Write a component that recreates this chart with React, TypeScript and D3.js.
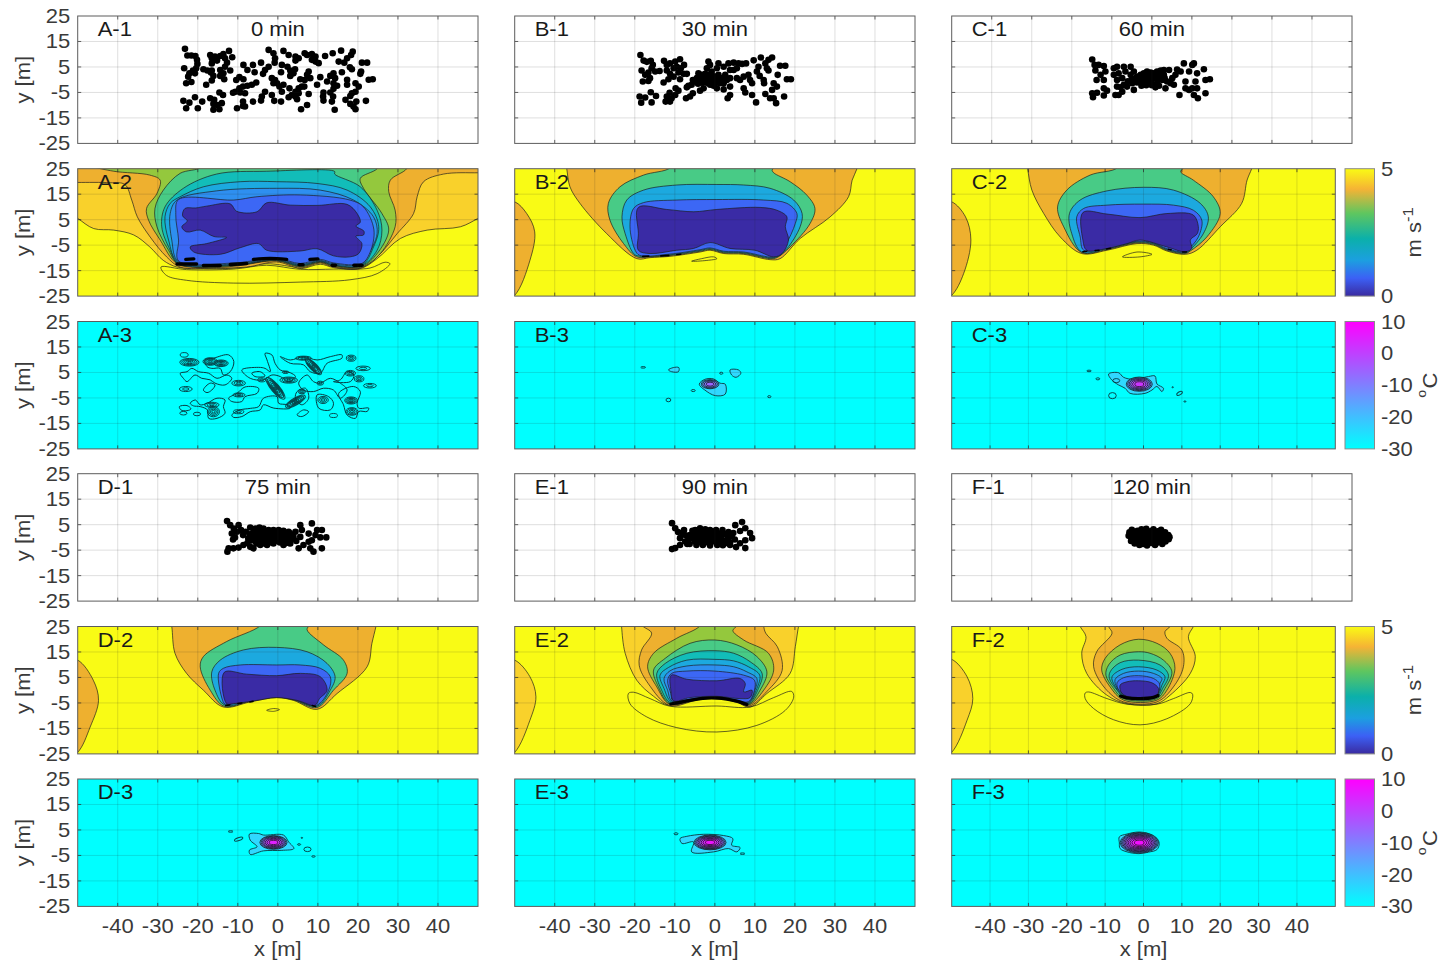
import React from "react";
import * as d3 from "d3";

type P = [number, number];
// [x, y, rx, ry, angle, rings]
type Spot = [number, number, number, number, number, number];

const xTicks = [-40, -30, -20, -10, 0, 10, 20, 30, 40];
const yTicks = [25, 15, 5, -5, -15, -25];
const speedTicks = [5, 0];
const tempTicks = [10, 0, -10, -20, -30];
const minutes = ["0 min", "30 min", "60 min", "75 min", "90 min", "120 min"];

const speedValues = [0.25, 0.75, 1.25, 1.75, 2.25, 2.75, 3.25, 3.75, 4.25, 4.75];
const speedColors = ["#3a2ba5", "#3c67f5", "#2e8ff0", "#1ca9df", "#12bdb9", "#48cb86", "#94c83d", "#eeb02f", "#f9d12b", "#f9fb15"];
const speedBarStops: [number, string][] = [[0, "#3a2ba0"], [0.14, "#3c60f5"], [0.28, "#1c9fe0"], [0.45, "#0bb0aa"], [0.65, "#5fc65f"], [0.84, "#f5b335"], [0.94, "#f9e020"], [1, "#f9fb15"]];

/* ---------- particle positions ---------- */
const pointsA: P[] = [[-23.2,12.1],[-22.6,9.5],[-21.6,9.5],[-20.6,9.3],[-20.2,7.8],[-23.4,4.5],[-20.1,6.2],[-20.4,4.5],[-21.2,3.6],[-22.1,2.5],[-20.7,2.5],[-22.4,1.2],[-18.6,4.1],[-17.6,3.6],[-16.7,2.8],[-16.1,1.5],[-22.9,-1.4],[-21.6,-0.9],[-17.9,-2],[-16.5,-0.3],[-16.9,9.7],[-16.5,8.4],[-15.7,9.1],[-14.4,9.3],[-13.6,10.1],[-12.2,11.3],[-11.4,8.8],[-13.2,8.4],[-16.5,6.4],[-15.2,7.5],[-12.7,6.7],[-13.2,5.1],[-14.4,3.8],[-11.9,3.6],[-13.6,2.5],[-14.4,1.5],[-13.4,0.2],[-16.5,3.6],
[-8.6,5.8],[-7.6,3.8],[-6.2,5.8],[-5.8,2.9],[-4.2,6.7],[-2.3,5.1],[-3.2,3.8],[-3.7,2.3],[-2.3,11.7],[-1.1,10.4],[-0.7,8.4],[-0.8,6.7],[-9.6,1],[-10.4,-0.1],[-8.6,0.2],[-8.7,-2.7],[-7.6,-2.4],[-6.5,-2],[-5.4,-1.1],[-9.6,-3.4],[-10.6,-4.7],[-11.2,-5.1],[-9.4,-5],[-8.2,-5.3],[-1.5,0.6],[-0.7,-0.1],[-0.2,-1.4],[-1.1,-1.4],[0.4,-2.7],[1,-4.7],[1,5.8],[2.4,5.1],[0.8,2.9],[3.1,3.6],[4.3,4.1],[3.9,2.5],[3.1,1.5],[1.4,11.3],[2.7,9.7],
[4.4,9.1],[5.2,8.4],[4.4,7.5],[6.7,10.4],[7.3,9.7],[8.5,10.1],[9.4,9.1],[8.5,7.8],[9.4,7.1],[10.2,6.5],[11.8,9.3],[13.7,10.4],[15.8,11.4],[18.7,11],[18.3,9.7],[15.2,7.1],[17.3,8.4],[16.6,6.7],[18,4.9],[18.5,4.1],[21,6.7],[22.3,6.7],[20.8,3.2],[20.6,2.3],
[22.7,0],[23.7,0.2],[16,2.9],[13.9,2.5],[13.1,1.5],[10.6,1],[12.3,-0.7],[14.3,0.6],[13.9,-1.4],[14.8,-2.4],[9.8,-2],[7.7,3.2],[7.3,1.9],[8.1,0.6],[5.6,0.2],[6.7,-0.1],[17.3,0],[17.3,-2],[19.4,-1.4],[20.2,-2.7],[19.4,-4.7],[18.5,-5.3],[18.1,-6.4],[13.9,-3.6],[13.1,-5],[13.8,-6.6],[13.5,-8.6],[11.4,-5],[11.3,-6.6],[11.4,-8.2],[16.9,-7.9],[18.1,-9.5],[18.9,-10.5],[19.6,-8.6],[19.4,-11.6],[22,-8.3],[14.2,-11.8],
[1.4,-2],[2.9,-3.4],[4.4,-4.7],[5.2,-3.4],[6,-2.7],[6.6,-2.7],[5.2,-5.3],[4.4,-6.6],[3.5,-6],[2.7,-6.9],[4.8,-7.7],[7.7,-5.6],[0.8,-8.6],[-0.9,-8.3],[-1.5,-6],[-3.2,-4.7],[-4,-6.6],[-4.2,-8.2],[-6.2,-8.6],[5.8,-11.6],[7.3,-9.9],
[-23.6,-8.3],[-22.1,-9],[-20.7,-6.9],[-18.9,-8.6],[-22.9,-11.2],[-20,-11.2],[-16.9,-7.3],[-15.9,-7.9],[-14.6,-5],[-13.7,-6],[-16.1,-9.5],[-14,-9.2],[-16.1,-11.8],[-14.6,-11.6],[-15.1,-9.9],[-10.2,-11.2],[-8.7,-8.6],[-8.7,-10.3],[-8.2,-10.5]];

const pointsB: P[] = [[-18.6,9.7],[-17.8,7.5],[-17,7],[-16,7.4],[-15.5,5.8],[-18.3,3.6],[-14.9,3.2],[-15.8,4.5],[-16.6,2.8],[-17.4,1.9],[-16.2,0.6],[-18,-0.7],[-16.6,-0.5],[-12.7,7.4],[-12,5.8],[-11.2,6.4],[-9.9,7.1],[-8.7,8],[-7.7,5.8],[-9.5,5.1],[-10.3,4.5],[-8.5,4.5],[-9.1,2.8],[-7.8,2.3],[-7,2.3],[-12,3.6],[-13.8,3.4],[-11.2,2.3],[-10.3,1.2],[-8.7,0.2],[-12.8,-1.1],[-11.6,0.2],
[-4.5,0.6],[-4.1,2.5],[-3.3,1.9],[-2.4,2.3],[-1.6,1.9],[-0.8,1.9],[0.1,1.2],[0.9,1.9],[1.8,0.6],[-1.2,-0.1],[-2,-0.1],[-2.8,0.6],[-3.7,-0.1],[-0.3,-0.7],[0.5,-0.1],[1.3,-1.4],[-4.9,-0.7],[-5.5,-0.1],[-5.8,-2],[-6.6,-2.4],[-1.2,-2],[-0.3,-2.4],[0.5,-3.4],[2.2,-3.8],[3.8,-2.7],[3,-0.1],[2.6,1.9],[3.8,0.6],[-0.8,3.2],[-2,4.5],[-1.2,5.8],[-1.6,7.1],[0.9,6.4],[0.5,4.5],[2.2,5.1],[3.4,6.4],[4.7,6.7],[5.9,6.4],[5.5,4.5],[4.7,3.8],[6.8,6.2],[7.8,6.4],[3.8,3.8],[-3.2,-1.2],[-2,-1.2],[-0.6,-1.4],[0.6,-1],[2.2,-1.4],[-4.2,-1.6],[-3.4,0.9],[-1,0.8],[0.9,0.6],[2.6,0.4],
[9.7,7.6],[11.5,8.7],[14.3,8.7],[13.4,7.8],[12.6,6.4],[10.9,5.1],[13,4.5],[13.4,3.6],[10.5,3.2],[11.2,1.5],[16.3,5.5],[17.6,5.5],[15.7,1.9],[18,0.2],[19,0.2],[6.3,-0.1],[5.5,0.6],[7.2,1.2],[8.4,1.9],[8.8,-0.1],[9.3,-1.4],[12.2,-0.1],[12.3,-1.4],[14.7,-1.4],[15.5,-2.7],[14.3,-4],[12.6,-5.6],[13.8,-7.3],[14.7,-7.3],[15.3,-9.2],[17.3,-6.6],[10.3,-8.9],[9.3,-6],[7.2,-3.4],[7.6,-5],[3.8,-6],[3.2,-7.3],
[-18.8,-6.6],[-17.4,-7],[-18.4,-9],[-15.8,-8.9],[-16,-4.9],[-14.7,-6.4],[-12.3,-8.6],[-11.2,-8.6],[-12,-6.6],[-10.8,-7.3],[-11.3,-5.1],[-9.9,-6],[-9.8,-3.4],[-9.1,-4.3],[-7.2,-7.3],[-6.2,-6.6],[-5.5,-5.3],[-7,-3],[-3.7,-4.3],[-2.8,-3.4]];

const pointsC: P[] = [[-14.9,7.9],[-14.3,5.8],[-13.3,5.8],[-12,5.4],[-14.1,3.6],[-11.6,3.2],[-12.8,1.9],[-13.8,-0.1],[-12,-0.1],[-9.5,4.5],[-8.7,5.1],[-7,5.1],[-5.3,5.1],[-6.6,3.2],[-8.3,2.5],[-9.5,1.9],[-4.5,3.2],[-5.3,1.9],[-7.4,0.6],[-8.7,-0.1],
[-3.7,1.2],[-2.8,1.9],[-2,2.5],[-1.2,3.2],[-0.3,2.8],[0.5,2.5],[1.3,3.2],[2.2,3.6],[3,3.8],[4.3,3.8],[-2.8,-0.1],[-2,0.6],[-1.2,1.2],[-0.3,0.6],[0.5,0.6],[1.3,1.2],[2.2,1.5],[3,1.9],[-1.2,-0.7],[-0.1,-1.4],[1.3,-1.4],[2.6,-0.1],[0.9,-3],[-2,-1.4],[-3.7,-1.1],[-4.9,-1.4],[-4.5,-4],[-6.2,-2.7],[-7,-2],[-7.8,-3],[-7.4,-4.7],[-8.3,-6],[-9.1,-6],[-12,-3.4],[-11.2,-4.3],[-13.7,-5.1],[-14.9,-5.3],[-14.7,-6.9],[-12,-6.2],[-8.7,-2.7],[-4.2,-0.2],[-5,0.4],[-1.4,-2.2],[0,-2.2],[1.4,0],[-0.6,2],[0.4,1.6],[2,0.4],[3.2,0.6],[1.8,-2.4],[-2.6,-2.4],[-6,-0.6],
[3.8,-0.7],[4.7,-1.4],[5.1,0.6],[5.9,1.9],[6.3,4],[8,6.4],[7.2,3.2],[9.3,3.2],[8.4,-0.7],[10.5,6.4],[10.1,5.8],[11.3,2.5],[13,4.1],[13.4,-0.1],[14.5,0.2],[10.9,-0.7],[10.1,-3.4],[9.3,-4],[8.4,-3.4],[11.3,-3.4],[13.4,-5.3],[11.5,-7.3],[10.5,-6],[6.9,-6],[5.5,-2],[3.4,-3.4]];

const pointsD: P[] = [[-12.7,6.4],[-11.9,4.8],[-11,3.5],[-9.8,4.8],[-11.5,1.5],[-10.2,2.2],[-9.2,2.9],[-10.7,0],[-11.2,-0.8],[-8.7,0.9],[-6.9,3.9],[-5.6,3.5],[-4.6,3.9],[-3.6,3.5],[-2.3,2.9],[-1.1,2.9],[0.2,2.9],[1.4,2.6],[2.7,2.2],[5.6,4.8],[8.5,5.5],[4.4,2.2],[6,2.9],[7.7,1.5],[9.8,2.9],[11,2.9],[9.4,0.9],[10.6,0],[12.1,0],[5.6,0.2],[3.9,0.2],
[-6,2.2],[-5,1],[-4.5,2.4],[-3.5,0.2],[-3,1.8],[-2,-0.6],[-1.5,0.9],[-0.5,2],[0.2,-0.3],[0.8,1.2],[1.5,-1],[2.3,0.5],[3,1.6],[-5.5,-0.8],[-4.2,-1.6],[-3,-1],[-2,-2],[-0.8,-1.5],[0.5,-2],[1.8,-2.3],[3,-1.4],[3.8,-0.4],[-6.6,-1.2],[-7,0.5],[-7.4,-0.4],[-0.6,0.2],[-2.6,0.8],[1.2,0.6],[-6,0.4],[-4.4,-0.4],[-2.6,-0.2],[-1,-0.6],[0.6,-1],[2.4,-0.6],[-1.6,2.2],[1.8,1.6],[-3.8,1.2],[-5.4,-2.2],[-3.4,-2.4],[-1.4,-1],[-0.4,1],[2.8,-2.2],[-6.6,1.4],[-8,2.2],[-7.6,-2.2],[4.6,-1.4],
[-12.3,-4.3],[-11.1,-4.3],[-12.6,-5.6],[-9.8,-4],[-8.6,-3],[-6.9,-3.7],[-6.1,-4.3],[-5.2,-2.4],[-4.4,-3],[-2.7,-3],[-1.1,-2.4],[1.4,-3],[3.1,-2.4],[5.2,-4.3],[6.4,-3],[7.7,-1.7],[8.5,-1.1],[8.1,-4.3],[8.9,-5.6],[11,-4.3]];

const pointsE: P[] = [[-10.7,5.6],[-9.9,3.6],[-9.2,2.1],[-7.7,2.9],[-8.7,-0.3],[-9.9,-4.2],[-10.7,-4.6],[-8.7,-3],[-6.9,-2.6],[-6.2,0.9],[-4.9,2.9],[-3.7,3.6],[-2.4,3.2],[-1.2,2.9],[0.3,2.9],[1.9,2.9],[3.4,2.1],[5.1,4.8],[6.8,6],[4.6,1.7],[6.3,2.5],[7.6,3.6],[8.8,1.7],[9.3,-0.3],[7.6,-1.1],[6.3,-2.3],[5.3,-3.8],[7.6,-4.2],[3.8,-3],[2.6,-2.3],
[-5.5,1.5],[-4.5,0],[-3.5,1.8],[-2.5,0.3],[-1.5,1.6],[-0.5,-0.2],[0.5,1.4],[1.5,0.1],[2.5,1.3],[3.3,-0.4],[-5,-1.6],[-3.8,-1.9],[-2.7,-1.3],[-1.6,-2.1],[-0.6,-1.5],[0.4,-2.2],[1.4,-1.4],[-6.6,-0.6],[-7.3,0.8],[-6.3,-2.6],[-4.6,-3],[-3,-3],[-1.2,-3.2],[0.6,-3],[2,-3.1],[4.2,0.4],[5,-0.8],[-5.6,-0.2],[-3.6,0.6],[-1.6,0.4],[0.4,0.2],[2.4,-1.2],[-4.4,1],[-2.4,2],[-0.4,1.8],[1.4,1.6],[3.2,1],[-3.4,-0.8],[-1.2,-0.8],[0.8,-0.8],[-7.4,-1.6],[-8,1.6],[3.8,-2],[-5.6,2.6]];

const pointsF: P[] = [[-5.8,0.6],[-5.6,2],[-5.2,-1.4],[-5,3],[-4.4,1],[-4.2,-0.4],[-4.3,-2.4],[-3.6,2.6],[-3.4,0.4],[-3.2,-1.4],[-3.1,-3],[-2.6,3.2],[-2.4,1.4],[-2.4,-0.4],[-2.2,-2.6],[-1.4,3.4],[-1.4,0.8],[-1.2,-1],[-1.2,-3.2],[-0.4,2.4],[-0.3,-0.2],[-0.2,-2.2],[0.4,3.2],[0.6,1.2],[0.7,-0.8],[0.8,-3],[1.4,2.4],[1.6,0.2],[1.6,-1.8],[2.3,3],[2.5,1.2],[2.6,-0.6],[2.6,-2.6],[3.3,2],[3.4,0.2],[3.4,-1.6],[4.1,0.9],[4.2,-0.7],[4.4,0.1],[-5,-0.2],[-4.4,2],[-3.6,-2.2],[-2,2.2],[-1.6,-2],[-0.8,1.4],[0,-1.4],[0.6,2],[1,-2.4],[1.8,1.2],[2.2,-1.2],[-2.8,0.4],[-0.8,0.2]];

/* ---------- wind speed contours, outermost first ---------- */
const levelsA2 = [4.25, 3.75, 3.25, 2.75, 2.25, 1.75, 1.25, 0.75, 0.25];
const ringsA2: P[][] = [
  [[-52,7.5],[-50,5.5],[-46,1.5],[-41,0.9],[-36,-1],[-32,-5.7],[-28.6,-11],[-25.2,-13.6],[-19.4,-14.2],[-11,-14],[-2.8,-12.3],[3.9,-13.6],[6,-14.2],[10.6,-12.5],[13.9,-13.8],[20.6,-14.2],[24.8,-10.3],[30.6,-2.4],[37.3,0.9],[45.6,2.2],[50,5.5],[53,8],[54,28],[-54,28]],
  [[-54,19.6],[-50,19.6],[-41.9,19.5],[-38.2,18.8],[-36.5,12.7],[-35.1,6.1],[-31.9,-1.8],[-27.8,-9.6],[-24.4,-13.6],[-16.1,-14],[-7.8,-13.6],[-0.3,-11.6],[5.6,-14],[10.6,-12],[13.9,-13.6],[20.6,-14],[24.8,-9.6],[29.8,-0.5],[33.9,7.4],[34.8,14],[36.4,19.9],[41.4,22.9],[50,23.4],[54,23.4],[54,28],[-54,28]],
  [[-46,26],[-41,24],[-32,22.5],[-29.4,20.5],[-30.2,15.3],[-32.8,9.4],[-32.3,4.8],[-29.4,-3],[-25.2,-12.3],[-19.4,-13.8],[-11,-13.3],[-0.3,-11.2],[5.6,-13.6],[10.6,-11.7],[13.9,-13.3],[21,-13.6],[25.6,-8.3],[29.3,2.2],[29.3,8.7],[27.7,16],[28.1,20.5],[32.2,25],[33,29],[-10,30]],
  [[-20,28],[-19.4,25.5],[-24.4,23.2],[-28.6,16.6],[-30.7,9.4],[-30.2,2.2],[-27.3,-7],[-24.8,-12.3],[-11,-13],[-0.3,-11],[5.6,-13.3],[10.6,-11.5],[13.9,-13],[21,-13.3],[24.8,-8.3],[27.7,0.9],[26,7.4],[21.4,17.3],[20.6,21.2],[24.8,25],[26,29]],
  [[14.2,23.9],[-2.8,24],[-15.3,22.9],[-23.6,17.3],[-28.2,10],[-29,2.2],[-26.9,-7],[-24.8,-12.3],[-11,-12.9],[-0.3,-10.9],[5.6,-13.1],[10.6,-11.4],[13.9,-12.9],[21,-13],[24.8,-7],[26,0.9],[24.8,8.7],[20.6,17.9],[14.2,22.9]],
  [[-24.4,14],[-18.6,17.9],[-9.4,19.9],[-0.3,19.9],[9.8,19.2],[17.3,16.6],[23.1,10],[25.2,2.2],[23.9,-5.7],[21,-12.9],[13.9,-12.7],[10.6,-11.2],[5.6,-12.9],[-0.3,-10.7],[-11,-12.7],[-24.8,-12],[-27.3,-3],[-28.2,6.1],[-26.9,11.4]],
  [[-25.2,12.7],[-15.3,16.3],[-0.3,17.3],[10.6,16.6],[18.9,12.7],[23.9,6.1],[24.8,-0.5],[22.3,-9.6],[21,-12.6],[14,-12.4],[10.6,-11],[5.6,-12.6],[-0.3,-10.5],[-11,-12.4],[-24.8,-11.6],[-26.5,-3],[-26.9,7.4]],
  [[-24.8,12.9],[-11,12.7],[-5.2,14],[5.6,14.7],[18,12.7],[21.4,10],[24,1],[23,-8],[21,-12.2],[14,-12],[10.6,-10.6],[5.6,-12.2],[-0.3,-10.2],[-11,-12],[-24.8,-11.2],[-24.8,-3],[-25.5,7]],
  [[-23.2,9.4],[-20.5,9.6],[-17.8,10.3],[-11.9,11.2],[-10.3,8.3],[-5.2,8.1],[-2.8,11.6],[3.1,10.7],[10,10.6],[17.3,11],[19.8,7.4],[20.6,4],[19.5,2.5],[21.5,0.5],[21.4,-1],[19.5,-1.5],[21,-4.4],[20.2,-8.3],[18,-9.6],[13.9,-9.2],[9.8,-6.4],[5.6,-7.3],[-2.8,-7],[-4.8,-4.4],[-9.4,-6],[-14.4,-8.6],[-21,-7.7],[-21.9,-5.7],[-17.8,-4.4],[-12.8,-2],[-16,-1.6],[-19.4,0.9],[-22.8,0.2],[-24,2.2],[-22.6,4.5],[-23.8,6.5]],
];
const lensA2: P[] = [[-29.2,-13.6],[-27.8,-16.9],[-22.8,-18.8],[-11,-19.9],[5.6,-19.5],[18,-18.6],[24.8,-16.2],[28,-12.3],[26.8,-11.7],[23,-14],[14,-14.4],[5.6,-14.5],[-2.8,-12.9],[-11,-14.4],[-22.8,-14.6]];
const bandsA2: P[][] = [
  [[-25.2,-12.4],[-20.3,-12.4]],
  [[-18.6,-13],[-14.4,-13]],
  [[-11.9,-12.6],[-7.8,-12.2]],
  [[-6.1,-10.6],[-2,-10.2],[2.2,-10.6]],
  [[5.3,-12.7],[6.3,-12.7]],
  [[13.6,-12.9],[14.4,-12.9]],
  [[19,-12.9],[21,-12.9]],
  [[-23,-10.6],[-21,-10.4]],
  [[8,-10.6],[10,-10.4]],
];

const levelsB2 = [3.75, 3.75, 2.75, 1.75, 0.75, 0.25];
const ringsB2: P[][] = [
  [[-54,12],[-50,12],[-47,7.4],[-45,0.2],[-46.2,-11],[-50,-24.7],[-54,-28]],
  [[-37.5,29],[-37,25],[-36.2,17.9],[-33.7,11.4],[-27,-0.5],[-19.5,-10.3],[-16.2,-9.9],[-11.2,-9.4],[-3.7,-7.7],[-1.2,-7],[2.2,-8.3],[7.2,-8.6],[13.8,-10.7],[16.3,-10.3],[21.3,-2.4],[28.8,6.1],[33.4,14],[34.3,20.5],[35.5,25],[36,29]],
  [[-10,29],[-11.2,25.3],[-17.8,22.5],[-23.7,17.9],[-26.6,11.4],[-26.2,4.8],[-22.8,-4.4],[-19.5,-9.6],[-16.2,-9.6],[-11.2,-9.1],[-3.7,-7.4],[-1.2,-6.7],[2.2,-8],[7.2,-8.3],[13.8,-10.3],[15.5,-9.9],[18.8,-5.7],[23.8,3.5],[25,9.4],[23,14.6],[18.8,19.9],[14.7,23.4],[14.3,24.5],[14.7,25.3],[15,29]],
  [[0.5,18.8],[-9.5,18.6],[-17.8,16.6],[-22,12.7],[-23.2,6.1],[-22.4,-0.5],[-20.3,-8.3],[-19,-9.3],[-11.2,-8.8],[-3.7,-7.1],[-1.2,-6.4],[2.2,-7.7],[7.2,-8],[13.8,-10],[15.5,-9.6],[18,-6.4],[21.3,2.2],[21.8,7.4],[19.7,12.7],[13.8,17.3],[7.2,18.6]],
  [[0.5,12.9],[-9.5,12.7],[-17.8,11.7],[-20.3,9.4],[-21.2,2.2],[-19.9,-7],[-18.8,-9],[-11.2,-8.5],[-3.7,-6.8],[-1.2,-6.1],[2.2,-7.4],[7.2,-7.7],[13.8,-9.7],[15.1,-9.4],[17.6,-5],[20.1,3.5],[20.5,7.4],[18,11.4],[12.2,12.7]],
  [[-19.1,9.8],[-12,9],[-5.3,8.1],[0.5,9],[11.3,9.8],[15.5,8.7],[18,6.1],[17.6,2.2],[18.4,-3],[16.8,-8.3],[14.7,-9.6],[10,-7],[3.8,-6.3],[-1.2,-4],[-5.3,-6.3],[-9.5,-7],[-16.2,-8.3],[-19.1,-7],[-19.1,-0.5]],
];
const lensB2: P[] = [[-5.8,-11.3],[-3.3,-10.3],[-0.3,-9.6],[0.5,-10.3],[-2,-11]];
const bandsB2: P[][] = [[[-18,-9.4],[-16.5,-9.3]],[[-13.5,-9.2],[-11.5,-9]],[[-9.5,-8.7],[-8.5,-8.6]]];

const levelsC2 = [3.75, 3.75, 2.75, 1.75, 0.75, 0.25];
const ringsC2: P[][] = [
  [[-54,12],[-50,12],[-46.4,6.1],[-45,-3],[-46.9,-16.2],[-50,-24.7],[-54,-28]],
  [[-30.6,29],[-30.2,25],[-29.1,16.6],[-26,7.4],[-21.7,-1.8],[-16.1,-8.3],[-9.5,-7],[-1.7,-4.4],[2.6,-5],[6.1,-7.3],[10.9,-8.6],[13.9,-7],[20,2.2],[25.6,11.4],[27,20.5],[28.2,25],[29,29]],
  [[-6,29],[-6.9,25.3],[-13.9,22.5],[-20,16.6],[-22.4,10],[-20.8,2.2],[-16.1,-7.9],[-9.5,-6.7],[-1.7,-4.1],[2.6,-4.7],[6.1,-7],[10.9,-8.3],[12.2,-7.3],[16.5,-1.8],[20,7.4],[18.2,14],[13,20.5],[9.7,23.8],[10.4,25.3],[11,29]],
  [[0,17.7],[-9.5,16.3],[-16.5,12.7],[-19.3,7.4],[-18.7,-0.5],[-16.1,-7.7],[-9.5,-6.4],[-1.7,-3.8],[2.6,-4.4],[6.1,-6.7],[10.9,-8],[12,-7],[15.6,-0.5],[16.9,6.1],[14.8,11.4],[7.8,16.6]],
  [[0,11.1],[-9.5,10.7],[-15.6,9.4],[-17.4,6.1],[-16.5,-1.8],[-15.6,-7],[-9.5,-6.1],[-1.7,-3.5],[2.6,-4.1],[6.1,-6.4],[10.9,-7.7],[11.7,-6.7],[14.3,-1.8],[15.2,4.8],[13,8.7],[7.8,10.7]],
  [[-15.8,7.8],[-9.5,7.2],[-0.9,5.8],[6.1,7.4],[13,6.8],[14.3,2.2],[14,-0.5],[12.2,-3],[12.6,-6.3],[10.9,-7.6],[6.1,-5.7],[-0.9,-3],[-4.3,-4.4],[-9.5,-6.3],[-14.8,-7],[-15.8,-3]],
];
const lensC2: P[] = [[-5.5,-9.6],[-1.7,-7.7],[2.2,-8.6],[-0.9,-9.6]];
const bandsC2: P[][] = [[[-15.8,-7.6],[-14.8,-7.4]],[[-12.6,-7.1],[-11.6,-7]],[[-9.6,-6.5],[-8.6,-6.2]],[[6.5,-6.6],[7.2,-6.8]],[[10.2,-7.7],[11.2,-7.7]]];

const levelsD2 = [3.75, 3.75, 2.75, 1.75, 0.75, 0.25];
const ringsD2: P[][] = [
  [[-54,12],[-50,11.8],[-46.1,3.9],[-44.8,-4],[-46.9,-14.5],[-50,-24.4],[-54,-28]],
  [[-27,29],[-26.5,25],[-25.7,14.5],[-22.8,6.6],[-18.6,0],[-13.6,-6.6],[-6.9,-4.6],[-0.3,-2.9],[3.9,-4],[9.8,-7.5],[14.8,-1.3],[22.3,9.2],[23.5,18.4],[24.5,25],[25,29]],
  [[-3,29],[-4.4,25.3],[-12.8,19.1],[-18.6,13.2],[-19.4,9.2],[-16.9,0],[-13.4,-6.3],[-6.9,-4.3],[-0.3,-2.7],[3.9,-3.8],[9.8,-6.8],[13.9,0],[17.3,6.6],[16.4,11.8],[11.4,17.8],[7.3,23.7],[7.7,25.3],[8,29]],
  [[-0.3,16.8],[-8.6,15.8],[-14.4,11.8],[-16.5,7.2],[-15.7,0],[-13.2,-5.9],[-6.9,-4.1],[-0.3,-2.5],[3.9,-3.6],[9.8,-6.3],[13.1,0],[14.3,5.3],[12.3,10.5],[7.3,15.1]],
  [[-0.3,9.9],[-9.4,9.9],[-13.6,8.6],[-14.8,6.6],[-13.8,-4],[-13.2,-5.5],[-6.9,-3.9],[-0.3,-2.3],[3.9,-3.4],[9.6,-6],[12.7,0],[13.1,5.3],[10.6,8.6],[5.6,9.9]],
  [[-13.4,7],[-7.8,6.3],[-0.3,5.7],[5.6,6.6],[10.6,5.3],[12.3,0],[10.4,-3.3],[9.3,-5.9],[4.8,-4],[-0.3,-2.9],[-5.2,-4],[-11.1,-5.3],[-12.8,-5.3]],
];
const lensD2: P[] = [[-2.8,-7.9],[-1.1,-7.2],[0.4,-7.6],[-1.1,-8.3]];
const bandsD2: P[][] = [[[-13,-6],[-12,-5.8]],[[-10,-5.2],[-9,-5]],[[-7,-4.6],[-6.2,-4.4]],[[8.6,-6],[9.4,-6.4]]];

const levelsE2 = [4.25, 4.25, 3.75, 3.25, 2.75, 2.25, 1.75, 1.25, 0.75, 0.25];
const ringsE2: P[][] = [
  [[-54,12],[-50,11.8],[-46.2,5.3],[-44.7,-2.6],[-46.2,-11.8],[-50,-24.4],[-54,-28]],
  [[-23.4,29],[-23.3,25],[-22.4,14.5],[-19.5,3.9],[-15.3,-2.4],[-11.6,-5.9],[-4.5,-3.7],[0.5,-2.9],[5.5,-4.6],[8.8,-6.6],[13,-1.3],[18.8,6.6],[20.1,17.1],[20.9,25],[21.5,29]],
  [[-18.6,29],[-18.2,25.5],[-15.8,22.4],[-18.3,15.8],[-18.9,9.8],[-16.6,2.5],[-11.3,-6],[-4.5,-3.9],[0.5,-3.1],[5.5,-4.8],[8.5,-6.3],[13,-0.5],[16.8,7.7],[15.6,17.1],[12.7,22.4],[12.2,25.5],[12.5,29]],
  [[-3,29],[-3.7,25.3],[-9.5,20.4],[-15.3,14.5],[-16.8,9.2],[-14.5,1.3],[-11.3,-5.5],[-4.5,-3.7],[0.5,-2.9],[5.5,-4.6],[8.4,-5.9],[12.2,0],[14.7,7.9],[13.4,14.5],[7.2,19.7],[4.5,23.4],[5.5,25.3],[6,29]],
  [[0,19.7],[-6.2,18.4],[-12.4,12.5],[-15.3,7.9],[-14.1,1.3],[-11.2,-5.3],[-4.5,-3.5],[0.5,-2.7],[5.5,-4.4],[8.4,-5.6],[11.3,0],[13,7.2],[10.5,13.2],[5.5,17.8]],
  [[0,15.5],[-7,14.5],[-12.4,10.5],[-14.5,6.6],[-13.5,0.7],[-11,-5],[-4.5,-3.4],[0.5,-2.6],[5.5,-4.3],[8.4,-5.3],[10.9,0.7],[11.8,6.6],[8.8,11.2],[4.7,14.5]],
  [[0,12.1],[-7,11.8],[-11.6,8.9],[-13.7,5.9],[-12.7,0.7],[-10.8,-4.6],[-4.5,-3.3],[0.5,-2.5],[5.5,-4.2],[8.4,-5],[10.5,0.7],[11.2,5.9],[8.4,9.2],[4.7,11.5]],
  [[0,9.9],[-7,9.5],[-11.2,7.6],[-12.7,4.6],[-11.8,0],[-10.7,-4.3],[-4.5,-3.2],[0.5,-2.4],[5.5,-4.1],[8.4,-4.7],[10,0],[10.5,4.6],[8,7.2],[4.7,9.2]],
  [[0,7.5],[-7,7.5],[-10.8,6.6],[-11.8,3.9],[-11,-1.3],[-10.5,-4],[-4.5,-3.1],[0.5,-2.3],[5.5,-4],[8.4,-4.5],[9.9,0],[9.9,3.9],[7.2,5.9]],
  [[-10.9,5.9],[-7,4.3],[0.5,3.7],[6.3,4.6],[7.6,2.6],[7.2,-0.7],[9.3,0],[8.8,-2.9],[6.3,-3.3],[0.5,-2.4],[-6.2,-2.9],[-10.3,-4.2],[-11,0]],
];
const lensE2: P[] = [[-21.6,-1.3],[-20.3,-0.8],[-16.2,-3.3],[-11.2,-6.3],[0.5,-6.2],[8.8,-6.6],[14.7,-2.9],[19.2,-0.5],[19.7,-2.7],[17.6,-7.9],[10.5,-13.8],[0.5,-16.4],[-9.5,-14.7],[-17,-10.5],[-21.2,-5.3]];
const bandsE2: P[][] = [[[-11,-5.4],[-9.5,-5],[-6.2,-4],[-3,-3.2],[0.5,-3.1],[3,-3.5],[5.5,-4.3],[8,-5.6]]];

const levelsF2 = [4.25, 4.25, 3.75, 3.25, 2.75, 2.25, 1.75, 1.25, 0.75, 0.25];
const ringsF2: P[][] = [
  [[-54,12],[-50,12.1],[-46,5.3],[-44.5,-3.3],[-46,-11.8],[-50,-24.4],[-54,-28]],
  [[-17.5,29],[-16.5,25],[-15,21],[-16.1,14.5],[-14.8,6.6],[-9.5,-2],[-4.3,-5.3],[3.5,-5.3],[6.9,-2],[12.2,6.6],[13.5,13.2],[11.7,21],[13,25],[14,29]],
  [[-9.5,29],[-9.1,25],[-8.2,22.4],[-12.2,15.1],[-13,9.2],[-10,0.7],[-5.2,-4.6],[3.5,-4.6],[7.8,1.3],[10.4,9.2],[10,15.8],[6.1,20.4],[5.6,23],[6.9,25],[7.5,29]],
  [[-1.3,20],[-6.1,17.8],[-10,12.5],[-10.9,7.9],[-8.7,1.3],[-5.2,-3.9],[3.5,-3.9],[6.1,0],[8.2,8.6],[6.9,14.5],[3.5,18.4]],
  [[-1.3,15.1],[-6.1,13.8],[-9.1,9.9],[-9.8,5.9],[-7.8,0.7],[-5.2,-3.3],[3.5,-3.3],[5.6,0.7],[7.4,7.2],[5.2,11.8],[1.7,14.5]],
  [[-1.3,11.8],[-6.1,10.8],[-8.7,7.2],[-8.9,4.6],[-6.9,0],[-5,-2.9],[3.3,-2.9],[5,0.7],[6.5,5.9],[4.3,9.9]],
  [[-1.3,9.2],[-5.6,8.2],[-8.2,5.3],[-7.8,2.6],[-4.8,-2.6],[3.3,-2.6],[4.8,2],[5.6,5.3],[3.5,7.9]],
  [[-1.3,7.5],[-5.2,6.6],[-7.4,4.2],[-6.9,1],[-4.6,-2.3],[3.3,-2.3],[4.3,2.6],[4.8,4.6],[2.6,6.6]],
  [[-1.3,5.7],[-5.2,4.9],[-6.9,2.9],[-6.4,0],[-4.3,-2.1],[3.3,-2.1],[4.2,2.4],[2.6,4.6]],
  [[-1.3,3.7],[-4.3,3.3],[-6.1,2],[-5.6,-1.3],[-3,-2.9],[0.9,-2.9],[3.5,-2],[3.9,0.7],[2.2,2.9]],
];
const lensF2: P[] = [[-15.2,-1.1],[-14.3,-0.7],[-9.5,-3.3],[-4.3,-5.5],[3.5,-5.5],[7.8,-3.3],[12.2,-0.9],[12.8,-1.6],[12.2,-5.3],[6.1,-11.2],[-0.9,-13.6],[-7.8,-11.6],[-13,-7.2],[-15.2,-3.3]];
const bandsF2: P[][] = [[[-6,-2.3],[-4.3,-3],[-0.9,-3.3],[2.6,-2.8],[3.8,-2.1]]];

/* ---------- temperature contours ---------- */
const meanderA3: P[][] = [
  [[-24.4,4.7],[-22.7,5.3],[-21.5,6.6],[-19.8,5.3],[-17.3,4.7],[-15.2,2.7],[-12.7,4],[-11.5,2.7],[-13.2,0.1],[-15.7,0.8],[-16.9,2.1],[-19,2.7],[-20.7,4],[-22.7,1.4],[-23.6,2.7]],
  [[-18.2,9.9],[-16.1,10.6],[-12.3,11.9],[-11,9.3],[-11.9,5.3],[-13.6,4],[-14.4,6.6],[-16.5,6.6],[-17.7,7.3]],
  [[-18.6,-1.9],[-16.9,0.8],[-15.7,0.1],[-16.5,-1.9],[-17.7,-2.9]],
  [[-24.6,-8.4],[-22.7,-8],[-21.7,-9.3],[-22.7,-10],[-24.2,-9.7]],
  [[-21.9,-7.1],[-20.6,-5.8],[-19.4,-7.7],[-17.7,-7.1],[-15.2,-5.1],[-13.2,-5.8],[-13.6,-8.4],[-13.2,-11],[-15.2,-13],[-17.3,-13],[-17.6,-9.7],[-19.4,-8.4],[-21.1,-8.1]],
  [[-12.3,-5.1],[-10.2,-3.2],[-8.2,-0.7],[-4.8,-1.2],[-5.2,-3.2],[-8.2,-4.5],[-9,-6.4],[-11.5,-6.4]],
  [[-11.5,-11.7],[-9.4,-9.7],[-6.9,-9.1],[-4.8,-8.4],[-3.6,-5.1],[-0.2,-4.5],[0.2,-7.1],[2.3,-7.7],[3.1,-9],[-1,-9],[-3.6,-7.7],[-4.4,-9.7],[-6.9,-10.4],[-9,-12.3],[-11.1,-12.6]],
  [[-9,6],[-4.8,7],[-3.2,6.6],[-1.9,5.3],[-2.7,9.9],[-3.2,12.5],[-1.5,11.9],[-0.7,8.6],[0.6,6],[3.1,4.9],[4.4,3.4],[2.7,1.4],[0.6,3.4],[-1.5,4],[-3.6,2.1],[-6.9,2.7]],
  [[-6.5,4.7],[-4.4,5.3],[-3.2,3.6],[-5.7,3.4]],
  [[0.6,11.2],[3.1,9.9],[6.4,11.2],[9.8,9.9],[13.1,11.2],[16,11.9],[16,10.6],[12.3,8.6],[10.6,4.7],[8.1,5.3],[6.4,8],[3.1,8.6]],
  [[5.2,0.8],[7.3,4],[8.9,1.4],[10.6,0.8],[13.1,2.7],[15.6,0.8],[17.3,-1.9],[15.6,-5.1],[13.9,-1.9],[11.4,-1.2],[8.9,-2.5],[6.4,-1.9]],
  [[4.8,-2.5],[6.9,-1.2],[7.7,-5.1],[6,-7.7],[4.4,-5.1]],
  [[9.8,-3.8],[12.7,-4.5],[13.9,-7.1],[13.1,-9.7],[10.2,-9]],
  [[6.4,-9.7],[7.7,-10.4],[6,-12.3],[4.8,-11.7]],
  [[15.2,-3.2],[18.9,-0.5],[20.6,-2.5],[19.8,-7.1],[20.2,-9],[22.7,-9],[22.3,-10.3],[20.2,-10.3],[19.4,-13],[17.3,-11.7],[16.4,-7.7]],
  [[13.9,1.4],[15.6,2.1],[17.3,5.3],[19,4],[18.1,1.4]],
];
const spotsA3: Spot[] = [[-23.4,11.9,1,0.9,0,1],[-22.1,9,2.4,1.5,0,5],[-16.9,9.3,1.8,1.5,0,5],[-14.2,8.6,1.8,1.3,0,5],[-23.6,-11,0.9,0.7,0,1],[-20.2,-11.3,0.9,0.7,0,1],[-9.8,0.8,1.7,1.1,0,3],[8.9,7.3,2.7,1.4,45,6],[-0.6,-1.2,3.5,1.6,50,7],[4.4,-6.4,2.8,1.4,-30,6],[2.7,2,2.2,1.2,0,4],[-4,2.1,1,0.8,0,2],[1.9,5.1,0.8,0.5,0,2],[11.3,-5.8,1.3,1.4,0,3],[13.9,-11.9,1,0.8,0,1],[18.3,-6,1.6,1.4,0,5],[18.5,-10.3,1.5,1.5,0,4],[18.1,4.7,1.3,1.1,0,3],[18.3,10.6,1.2,1.2,0,3],[21.3,6.6,1.8,0.9,0,2],[20.3,2.5,1.2,1.2,0,3],[23,-0.2,1.6,0.9,0,2],[-23,-1.5,1.6,1,0,2],[-16.5,-7.7,1.8,1,0,3],[-16.1,-10.4,1.5,2,0,4],[-9.8,-10.4,1.3,0.8,0,2],[6.4,10.6,2,0.8,0,3],[6,-2.5,0.9,0.9,0,3],[10.6,0.8,0.8,0.8,0,2],[-9.7,-3.8,1.5,0.8,0,3]];

const outerB3: P[][] = [
  [[-3.9,0.4],[-2.5,2.3],[-0.4,2.5],[1.3,0.8],[2.6,0.4],[2.6,-3.5],[0.1,-4.1],[-2.5,-1.9]],
  [[-11.6,6],[-10.4,6.9],[-9,6.9],[-9.1,5.3],[-10.8,5.3]],
  [[3.8,6],[5.9,6],[6.5,4.7],[5.3,3.1],[4.2,4]],
];
const coreB3: Spot = [-1.2, 0.4, 2.2, 1.8, 0, 4];
const peakB3 = -6;
const smallB3: Spot[] = [[-17.9,7,0.6,0.3,0,1],[1.6,4.7,0.4,0.4,0,1],[-5.4,-2.1,0.5,0.4,0,1],[-11.6,-5.8,0.6,0.7,0,1],[13.6,-4.5,0.4,0.4,0,1]];

const outerC3: P[][] = [
  [[-9.1,4.4],[-6.5,4.9],[-5.2,3.1],[-2.6,2.3],[1.3,3.4],[3,3.6],[3.5,0.5],[5.2,-1.2],[4.8,-2.5],[3.5,-0.5],[2.2,-1.9],[0.4,-3.2],[-3.5,-3.2],[-4.8,-1.2],[-6.5,0.1],[-8.3,2.1]],
];
const coreC3: Spot = [-1.1, 0.4, 3.4, 2.8, 0, 6];
const peakC3 = 2;
const smallC3: Spot[] = [[-7.1,1.8,0.9,0.8,0,1],[-14.2,5.6,0.6,0.3,0,1],[-11.9,2.5,0.5,0.4,0,1],[-8.1,-4.1,1,1.2,0,1],[7.6,-0.8,0.2,0.2,0,1],[9.4,-3.2,0.8,0.6,-30,1],[10.8,-6.4,0.25,0.25,0,1]];

const outerD3: P[][] = [
  [[-7.1,3.4],[-4.8,3.6],[-3.6,3],[1.4,3],[2.7,0.3],[4,-2.3],[1,-3],[-3.6,-3.2],[-6.9,-4.6],[-7.1,-2.9],[-5.2,-1.6],[-6.9,1]],
];
const coreD3: Spot = [-1.1, 0.1, 3.4, 2.7, 0, 7];
const peakD3 = 5;
const smallD3: Spot[] = [[-11.8,4.4,0.6,0.3,0,1],[-9.8,1.4,1.1,0.6,-20,1],[6,1.9,0.2,0.2,0,1],[5.3,-0.7,0.4,0.3,0,1],[7.4,-2.6,0.9,0.9,0,1],[8.9,-5.4,0.4,0.3,0,1]];

const outerE3: P[][] = [
  [[-8.7,1.6],[-7,2.5],[-2.8,3.3],[2.2,2.8],[4.5,1.6],[4.2,-1],[6.3,-1.9],[5.5,-3.6],[3.4,-2.3],[-0.3,-3.6],[-5.8,-3.6],[-5.3,0.3],[-8.2,-0.3]],
];
const coreE3: Spot = [-1.2, 0.1, 4, 2.9, 0, 8];
const peakE3 = 7;
const smallE3: Spot[] = [[-9.7,3.5,0.5,0.4,0,1],[6.9,-4.3,0.6,0.3,0,1]];

const outerF3: P[][] = [
  [[-6.3,2.3],[-4.3,3.4],[-1.2,4.2],[1.7,3.4],[3.5,1.7],[4.1,-0.3],[3.5,-2.7],[1.3,-3.7],[-1.2,-4.3],[-4.3,-3.6],[-6.1,-2.3],[-6.3,0]],
];
const coreF3: Spot = [-1.1, 0, 5, 4, 0, 10];
const peakF3 = 8;
const smallF3: Spot[] = [];

/* ---------- layout helpers ---------- */
const font = "'Liberation Sans', Arial, sans-serif";
const tickColor = "#3a3a3a";
const fontSize = 20;
const stretch = 1.1;
const colLeft = [77.7, 514.7, 951.7];
const rowTop = [16, 168.7, 321.5, 473.7, 626.5, 779];
const panelH = 127.4;
const wideW = 400.3;
const narrowW = 383.6;

const speedFill = d3.scaleOrdinal<number, string>().domain(speedValues).range(speedColors);
const tempFill = d3.scaleLinear<string>().domain([-30, 10]).range(["#00ffff", "#ff00ff"]);

function useScales(col: number, row: number, narrow: boolean) {
  const x = d3.scaleLinear().domain([-50, 50]).range([colLeft[col], colLeft[col] + (narrow ? narrowW : wideW)]);
  const y = d3.scaleLinear().domain([-25, 25]).range([rowTop[row] + panelH, rowTop[row]]);
  return { x, y };
}

type S = ReturnType<typeof useScales>;

function ringPath(s: S, ring: P[]) {
  return d3.line<P>().x((d) => s.x(d[0])).y((d) => s.y(d[1])).curve(d3.curveCatmullRomClosed.alpha(0.5))(ring) || "";
}

function Label({ x, y, anchor, fill, children, rotate }: any) {
  const t = rotate ? `translate(${x},${y}) rotate(-90) scale(${stretch},1)` : `translate(${x},${y}) scale(${stretch},1)`;
  return <text transform={t} textAnchor={anchor || "start"} fontSize={fontSize} fill={fill || tickColor} fontFamily={font}>{children}</text>;
}

function Frame({ s, children, id, yLabels, xLabels, name, title }: any) {
  const [x0, x1] = s.x.range();
  const [y1, y0] = s.y.range();
  return (
    <g>
      <clipPath id={id}><rect x={x0} y={y0} width={x1 - x0} height={y1 - y0} /></clipPath>
      <rect x={x0} y={y0} width={x1 - x0} height={y1 - y0} fill="#fff" />
      <g clipPath={`url(#${id})`}>{children}</g>
      {xTicks.map((t) => (
        <g key={`x${t}`} stroke="#262626">
          <line x1={s.x(t)} x2={s.x(t)} y1={y0} y2={y1} strokeOpacity={0.15} />
          <line x1={s.x(t)} x2={s.x(t)} y1={y1} y2={y1 - 3.5} strokeOpacity={0.7} />
          <line x1={s.x(t)} x2={s.x(t)} y1={y0} y2={y0 + 3.5} strokeOpacity={0.7} />
        </g>
      ))}
      {yTicks.slice(1, -1).map((t) => (
        <g key={`y${t}`} stroke="#262626">
          <line x1={x0} x2={x1} y1={s.y(t)} y2={s.y(t)} strokeOpacity={0.15} />
          <line x1={x0} x2={x0 + 3.5} y1={s.y(t)} y2={s.y(t)} strokeOpacity={0.7} />
          <line x1={x1} x2={x1 - 3.5} y1={s.y(t)} y2={s.y(t)} strokeOpacity={0.7} />
        </g>
      ))}
      <rect x={x0} y={y0} width={x1 - x0} height={y1 - y0} fill="none" stroke="#5c5c5c" strokeWidth={1} />
      {yLabels && yTicks.map((t) => <Label key={`yl${t}`} x={x0 - 7.5} y={s.y(t) + 7} anchor="end">{t}</Label>)}
      {yLabels && <Label x={30} y={(y0 + y1) / 2} anchor="middle" rotate>y [m]</Label>}
      {xLabels && xTicks.map((t) => <Label key={`xl${t}`} x={s.x(t)} y={y1 + 27} anchor="middle">{t}</Label>)}
      {xLabels && <Label x={s.x(0)} y={y1 + 50} anchor="middle">x [m]</Label>}
      <Label x={x0 + 20} y={y0 + 20} fill="#1a1a1a">{name}</Label>
      {title && <Label x={s.x(0)} y={y0 + 20} anchor="middle" fill="#1a1a1a">{title}</Label>}
    </g>
  );
}

function Scatter({ col, row, name, title, points, yLabels }: any) {
  const s = useScales(col, row, false);
  return (
    <Frame s={s} id={`c-${name}`} name={name} title={title} yLabels={yLabels}>
      {points.map((p: P, i: number) => <circle key={i} cx={s.x(p[0])} cy={s.y(p[1])} r={3.3} fill="#000" />)}
    </Frame>
  );
}

function Speed({ col, row, name, rings, levels, lens, bands, bandWidth, yLabels }: any) {
  const s = useScales(col, row, col === 2);
  const open = d3.line<P>().x((d) => s.x(d[0])).y((d) => s.y(d[1])).curve(d3.curveCatmullRom);
  return (
    <Frame s={s} id={`c-${name}`} name={name} yLabels={yLabels}>
      <rect x={s.x(-50)} y={s.y(25)} width={s.x(50) - s.x(-50)} height={panelH} fill={speedFill(4.75)} />
      {rings.map((r: P[], i: number) => (
        <path key={i} d={ringPath(s, r)} fill={speedFill(levels[i])} stroke="#1c1c1c" strokeOpacity={0.85} strokeWidth={0.8} />
      ))}
      <path d={ringPath(s, lens)} fill="none" stroke="#1c1c1c" strokeOpacity={0.85} strokeWidth={0.8} />
      {bands.map((b: P[], i: number) => (
        <path key={`b${i}`} d={open(b) || ""} fill="none" stroke="#000" strokeWidth={bandWidth} strokeLinecap="round" />
      ))}
    </Frame>
  );
}

function SpotRings({ s, spot, peak }: { s: S; spot: Spot; peak?: number }) {
  const [cx, cy, rx, ry, angle, n] = spot;
  const px = s.x(cx), py = s.y(cy);
  const ks = d3.range(n, 0, -1);
  return (
    <g transform={`rotate(${angle},${px},${py})`}>
      {ks.map((k) => {
        const f = peak === undefined ? k / n : Math.pow(k / n, 0.6);
        const v = Math.pow(1 - (k - 1) / n, 0.55);
        return (
          <ellipse key={k} cx={px} cy={py}
            rx={Math.abs(s.x(cx + rx * f) - px)} ry={Math.abs(s.y(cy + ry * f) - py)}
            fill={peak === undefined ? "none" : tempFill(-30 + (peak + 30) * v)}
            stroke={peak === undefined ? "#073c42" : "#101010"} strokeWidth={peak === undefined ? 1 : 0.8} strokeOpacity={0.92} />
        );
      })}
    </g>
  );
}

function Temp({ col, row, name, outer, core, peak, small, meander, yLabels, xLabels }: any) {
  const s = useScales(col, row, col === 2);
  return (
    <Frame s={s} id={`c-${name}`} name={name} yLabels={yLabels} xLabels={xLabels}>
      <rect x={s.x(-50)} y={s.y(25)} width={s.x(50) - s.x(-50)} height={panelH} fill="#00ffff" />
      {(meander || []).map((r: P[], i: number) => (
        <path key={i} d={ringPath(s, r)} fill="none" stroke="#073c42" strokeWidth={1} />
      ))}
      {(outer || []).map((r: P[], i: number) => (
        <path key={i} d={ringPath(s, r)} fill="#30d8ff" stroke="#0a3a40" strokeWidth={0.9} />
      ))}
      {core && <SpotRings s={s} spot={core} peak={peak} />}
      {(small || []).map((sp: Spot, i: number) => <SpotRings key={i} s={s} spot={sp} />)}
    </Frame>
  );
}

function SpeedBar({ row }: { row: number }) {
  const y = d3.scaleLinear().domain([0, 5]).range([rowTop[row] + panelH, rowTop[row]]);
  return (
    <g>
      <rect x={1345} y={rowTop[row]} width={29.5} height={panelH} fill="url(#speedGrad)" stroke="#8a8a8a" strokeWidth={1} />
      {speedTicks.map((t) => <Label key={t} x={1381} y={y(t) + 7}>{t}</Label>)}
      <Label x={1421} y={(y(0) + y(5)) / 2} anchor="middle" rotate>
        m s<tspan dy={-8} fontSize={15}>-1</tspan>
      </Label>
    </g>
  );
}

function TempBar({ row }: { row: number }) {
  const y = d3.scaleLinear().domain([-30, 10]).range([rowTop[row] + panelH, rowTop[row]]);
  return (
    <g>
      <rect x={1345} y={rowTop[row]} width={29.5} height={panelH} fill="url(#tempGrad)" stroke="#8a8a8a" strokeWidth={1} />
      {tempTicks.map((t) => <Label key={t} x={1381} y={y(t) + 7}>{t}</Label>)}
      <Label x={1437} y={(y(-30) + y(10)) / 2} anchor="middle" rotate>
        <tspan dy={-11} fontSize={13}>o</tspan><tspan dy={11} dx={1}>C</tspan>
      </Label>
    </g>
  );
}

export default function App() {
  return (
    <svg width={1451} height={962} viewBox="0 0 1451 962" style={{ position: "absolute", left: 0, top: 0, background: "#fff", display: "block" }}>
      <defs>
        <linearGradient id="speedGrad" x1="0" y1="1" x2="0" y2="0">
          {speedBarStops.map(([o, c]) => <stop key={o} offset={o} stopColor={c} />)}
        </linearGradient>
        <linearGradient id="tempGrad" x1="0" y1="1" x2="0" y2="0">
          <stop offset={0} stopColor="#00ffff" />
          <stop offset={1} stopColor="#ff00ff" />
        </linearGradient>
      </defs>

      <Scatter col={0} row={0} name="A-1" title={minutes[0]} points={pointsA} yLabels />
      <Scatter col={1} row={0} name="B-1" title={minutes[1]} points={pointsB} />
      <Scatter col={2} row={0} name="C-1" title={minutes[2]} points={pointsC} />
      <Speed col={0} row={1} name="A-2" rings={ringsA2} levels={levelsA2} lens={lensA2} bands={bandsA2} bandWidth={3.4} yLabels />
      <Speed col={1} row={1} name="B-2" rings={ringsB2} levels={levelsB2} lens={lensB2} bands={bandsB2} bandWidth={1.6} />
      <Speed col={2} row={1} name="C-2" rings={ringsC2} levels={levelsC2} lens={lensC2} bands={bandsC2} bandWidth={1.6} />
      <Temp col={0} row={2} name="A-3" meander={meanderA3} small={spotsA3} yLabels />
      <Temp col={1} row={2} name="B-3" outer={outerB3} core={coreB3} peak={peakB3} small={smallB3} />
      <Temp col={2} row={2} name="C-3" outer={outerC3} core={coreC3} peak={peakC3} small={smallC3} />

      <Scatter col={0} row={3} name="D-1" title={minutes[3]} points={pointsD} yLabels />
      <Scatter col={1} row={3} name="E-1" title={minutes[4]} points={pointsE} />
      <Scatter col={2} row={3} name="F-1" title={minutes[5]} points={pointsF} />
      <Speed col={0} row={4} name="D-2" rings={ringsD2} levels={levelsD2} lens={lensD2} bands={bandsD2} bandWidth={1.6} yLabels />
      <Speed col={1} row={4} name="E-2" rings={ringsE2} levels={levelsE2} lens={lensE2} bands={bandsE2} bandWidth={3.2} />
      <Speed col={2} row={4} name="F-2" rings={ringsF2} levels={levelsF2} lens={lensF2} bands={bandsF2} bandWidth={3.2} />
      <Temp col={0} row={5} name="D-3" outer={outerD3} core={coreD3} peak={peakD3} small={smallD3} yLabels xLabels />
      <Temp col={1} row={5} name="E-3" outer={outerE3} core={coreE3} peak={peakE3} small={smallE3} xLabels />
      <Temp col={2} row={5} name="F-3" outer={outerF3} core={coreF3} peak={peakF3} small={smallF3} xLabels />

      <SpeedBar row={1} />
      <TempBar row={2} />
      <SpeedBar row={4} />
      <TempBar row={5} />
    </svg>
  );
}
